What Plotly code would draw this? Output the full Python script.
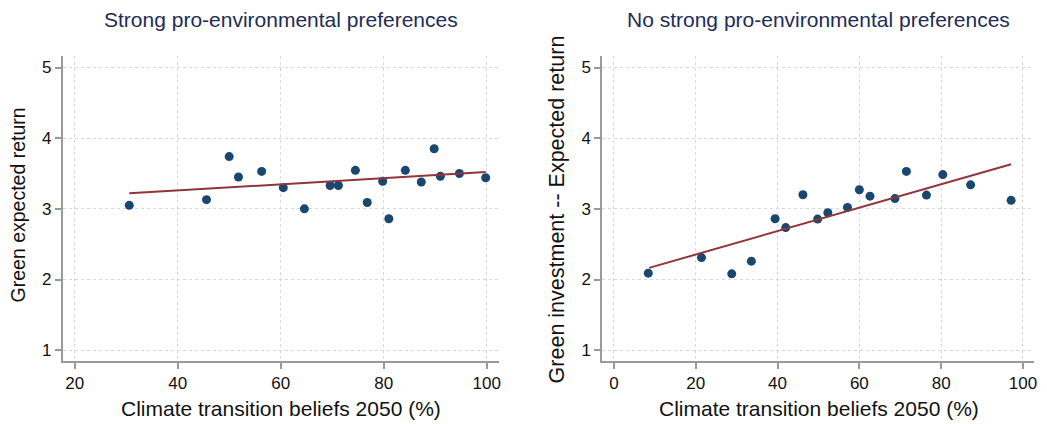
import plotly.graph_objects as go

# Binned means: strong pro-environmental preferences
left_x = [30.6, 45.6, 50.0, 51.8, 56.3, 60.5, 64.6, 69.6, 71.2, 74.5,
          76.8, 79.8, 81.0, 84.2, 87.3, 89.8, 91.0, 94.7, 99.8]
left_y = [3.05, 3.13, 3.74, 3.45, 3.53, 3.30, 3.00, 3.33, 3.33, 3.545,
          3.09, 3.39, 2.86, 3.545, 3.38, 3.85, 3.46, 3.50, 3.44]
left_fit_x = [30.6, 99.8]
left_fit_y = [3.22, 3.52]

# Binned means: no strong pro-environmental preferences
right_x = [8.4, 21.4, 28.8, 33.6, 39.4, 42.0, 46.2, 49.8, 52.3, 57.1,
           60.0, 62.6, 68.7, 71.5, 76.4, 80.4, 87.2, 97.1]
right_y = [2.09, 2.31, 2.08, 2.26, 2.86, 2.735, 3.20, 2.855, 2.945, 3.02,
           3.27, 3.18, 3.145, 3.53, 3.195, 3.485, 3.34, 3.12]
right_fit_x = [8.6, 97.1]
right_fit_y = [2.165, 3.63]

titles = ["Strong pro-environmental preferences",
          "No strong pro-environmental preferences"]
x_title = "Climate transition beliefs 2050 (%)"
y_titles = ["Green expected return", "Green investment -- Expected return"]
left_xticks = [20, 40, 60, 80, 100]
right_xticks = [0, 20, 40, 60, 80, 100]
y_ticks = [1, 2, 3, 4, 5]

W, H = 1047, 424
FONT = "Liberation Sans, Arial, sans-serif"
MARKER = "#1a476f"
FIT = "#90353b"
AXIS = "#9a9a9a"
GRID = "#d8d8d8"
TITLE_C = "#1e2d55"

fig = go.Figure()
fig.add_trace(go.Scatter(x=left_x, y=left_y, mode="markers",
                         marker=dict(color=MARKER, size=9),
                         xaxis="x", yaxis="y", showlegend=False))
fig.add_trace(go.Scatter(x=left_fit_x, y=left_fit_y, mode="lines",
                         line=dict(color=FIT, width=2),
                         xaxis="x", yaxis="y", showlegend=False))
fig.add_trace(go.Scatter(x=right_x, y=right_y, mode="markers",
                         marker=dict(color=MARKER, size=9),
                         xaxis="x2", yaxis="y2", showlegend=False))
fig.add_trace(go.Scatter(x=right_fit_x, y=right_fit_y, mode="lines",
                         line=dict(color=FIT, width=2),
                         xaxis="x2", yaxis="y2", showlegend=False))


def px_x(p):
    return p / W


def px_y(p):
    return 1 - p / H


common = dict(showline=True, linecolor=AXIS, linewidth=2,
              ticks="outside", ticklen=6, tickwidth=1.5, tickcolor=AXIS,
              showgrid=True, gridcolor=GRID, griddash="dot", gridwidth=1,
              zeroline=False, tickfont=dict(family=FONT, size=17, color="#111"),
              mirror=False)

ydom = [px_y(361), px_y(56)]

fig.update_layout(
    width=W, height=H,
    margin=dict(l=0, r=0, t=0, b=0),
    paper_bgcolor="white", plot_bgcolor="white",
    font=dict(family=FONT),
    xaxis=dict(domain=[px_x(63), px_x(500)], range=[17.7, 102.3],
               tickvals=left_xticks, anchor="y", **common),
    yaxis=dict(domain=ydom, range=[0.847, 5.163], tickvals=y_ticks,
               anchor="x", **common),
    xaxis2=dict(domain=[px_x(604), px_x(1037)], range=[-2.85, 102.7],
                tickvals=right_xticks, anchor="y2", **common),
    yaxis2=dict(domain=ydom, range=[0.847, 5.163], tickvals=y_ticks,
                anchor="x2", **common),
)

ann = []
for cx, t in zip([281.5, 821], titles):
    ann.append(dict(text=t, x=px_x(cx), y=px_y(20), xref="paper", yref="paper",
                    showarrow=False, xanchor="center", yanchor="middle",
                    font=dict(family=FONT, size=21, color=TITLE_C)))
for cx in [282, 821]:
    ann.append(dict(text=x_title, x=px_x(cx), y=px_y(408), xref="paper",
                    yref="paper", showarrow=False, xanchor="center",
                    yanchor="middle",
                    font=dict(family=FONT, size=21, color="#111")))
for cx, cy, size, t in zip([18.5, 559], [205, 209], [19.5, 21.5], y_titles):
    ann.append(dict(text=t, x=px_x(cx), y=px_y(cy), xref="paper", yref="paper",
                    showarrow=False, xanchor="center", yanchor="middle",
                    textangle=-90,
                    font=dict(family=FONT, size=size, color="#111")))
fig.update_layout(annotations=ann)

fig.write_html("out.html")
